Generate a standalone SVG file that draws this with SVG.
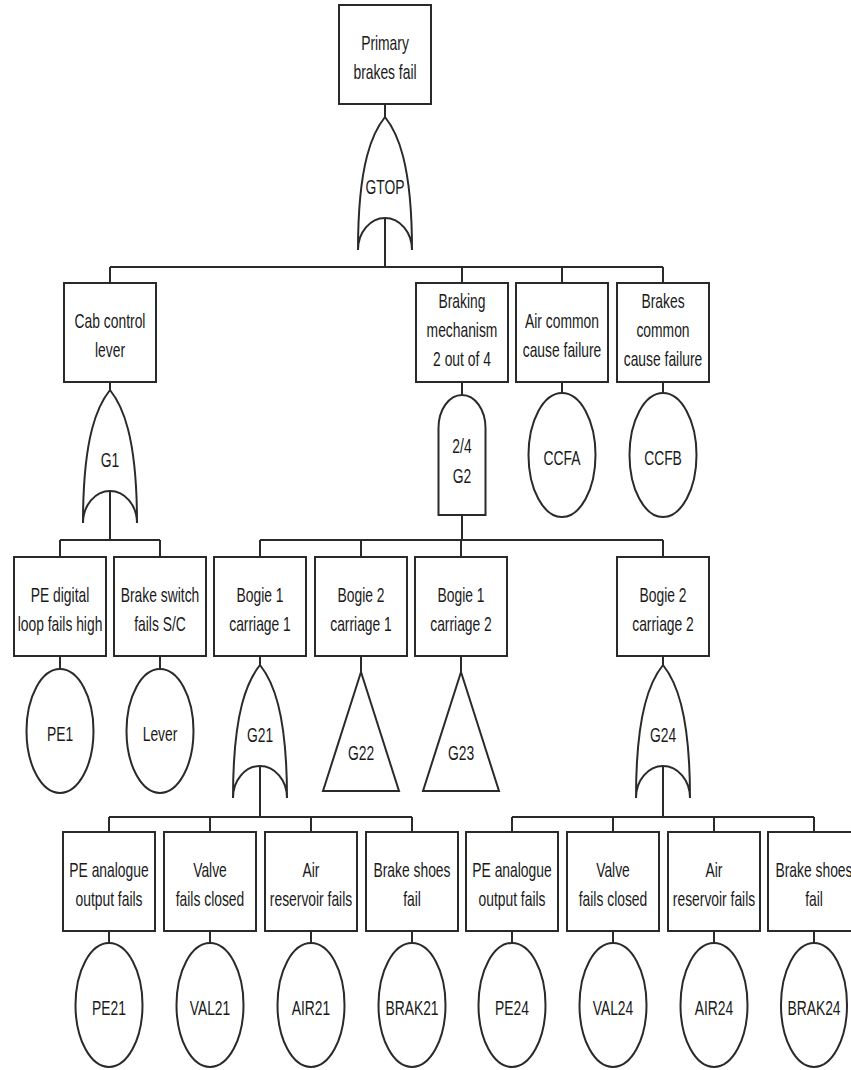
<svg xmlns="http://www.w3.org/2000/svg" width="851" height="1070" viewBox="0 0 851 1070">
<style>
.b{fill:#fff;stroke:#2a2a2a;stroke-width:2}
.c{fill:none;stroke:#2a2a2a;stroke-width:2}
.t{font-family:"Liberation Sans",Arial,sans-serif;font-size:21px;fill:#1a1a1a;text-anchor:middle}
</style>
<rect width="851" height="1070" fill="#fff"/>
<g id="connectors" class="c">
<path d="M385,104V117M385,218V267M110,267H663M110,267V283M462,267V283M562,267V283M663,267V283"/>
<path d="M110,382V390M110,491V540M60,540H160M60,540V557M160,540V557M60,656V669M160,656V669"/>
<path d="M462,382V395M462,515V540M260,540H663M260,540V557M361,540V557M461,540V557M663,540V557"/>
<path d="M562,382V393M663,382V393"/>
<path d="M260,656V665M260,766V817M109,817H412M109,817V832M210,817V832M311,817V832M412,817V832"/>
<path d="M361,656V672M461,656V672"/>
<path d="M663,656V665M663,766V817M512,817H814M512,817V832M613,817V832M714,817V832M814,817V832"/>
<path d="M109,931V943M210,931V943M311,931V943M412,931V943M512,931V943M613,931V943M714,931V943M814,931V943"/>
</g>
<g id="n_top"><rect class="b" x="339" y="5" width="92" height="99"/><text class="t" transform="translate(385 50) scale(0.66 1)">Primary</text><text class="t" transform="translate(385 79) scale(0.66 1)">brakes fail</text></g>
<g id="g_top"><path class="b" d="M358,250A27 32 0 0 1 412,250C412,162 397,132 385,117C373,132 358,162 358,250Z"/><text class="t" transform="translate(385 194) scale(0.66 1)">GTOP</text></g>
<g id="n_cab"><rect class="b" x="64" y="283" width="92" height="99"/><text class="t" transform="translate(110 328) scale(0.66 1)">Cab control</text><text class="t" transform="translate(110 357) scale(0.66 1)">lever</text></g>
<g id="n_brk"><rect class="b" x="416" y="283" width="92" height="99"/><text class="t" transform="translate(462 308) scale(0.66 1)">Braking</text><text class="t" transform="translate(462 337) scale(0.66 1)">mechanism</text><text class="t" transform="translate(462 366) scale(0.66 1)">2 out of 4</text></g>
<g id="n_air"><rect class="b" x="516" y="283" width="92" height="99"/><text class="t" transform="translate(562 328) scale(0.66 1)">Air common</text><text class="t" transform="translate(562 357) scale(0.66 1)">cause failure</text></g>
<g id="n_brc"><rect class="b" x="617" y="283" width="92" height="99"/><text class="t" transform="translate(663 308) scale(0.66 1)">Brakes</text><text class="t" transform="translate(663 337) scale(0.66 1)">common</text><text class="t" transform="translate(663 366) scale(0.66 1)">cause failure</text></g>
<g id="g1"><path class="b" d="M83,523A27 32 0 0 1 137,523C137,435 122,405 110,390C98,405 83,435 83,523Z"/><text class="t" transform="translate(110 467) scale(0.66 1)">G1</text></g>
<g id="g2"><path class="b" d="M438.5,515V428A23.5 33 0 0 1 485.5,428V515Z"/><text class="t" transform="translate(462 453) scale(0.66 1)">2/4</text><text class="t" transform="translate(462 483) scale(0.66 1)">G2</text></g>
<g id="e_ccfa"><ellipse class="b" cx="562" cy="455" rx="33.5" ry="62"/><text class="t" transform="translate(562 465) scale(0.66 1)">CCFA</text></g>
<g id="e_ccfb"><ellipse class="b" cx="663" cy="455" rx="33.5" ry="62"/><text class="t" transform="translate(663 465) scale(0.66 1)">CCFB</text></g>
<g id="n_ped"><rect class="b" x="14" y="557" width="92" height="99"/><text class="t" transform="translate(60 602) scale(0.66 1)">PE digital</text><text class="t" transform="translate(60 631) scale(0.66 1)">loop fails high</text></g>
<g id="n_bsw"><rect class="b" x="114" y="557" width="92" height="99"/><text class="t" transform="translate(160 602) scale(0.66 1)">Brake switch</text><text class="t" transform="translate(160 631) scale(0.66 1)">fails S/C</text></g>
<g id="n_b1c1"><rect class="b" x="214" y="557" width="92" height="99"/><text class="t" transform="translate(260 602) scale(0.66 1)">Bogie 1</text><text class="t" transform="translate(260 631) scale(0.66 1)">carriage 1</text></g>
<g id="n_b2c1"><rect class="b" x="315" y="557" width="92" height="99"/><text class="t" transform="translate(361 602) scale(0.66 1)">Bogie 2</text><text class="t" transform="translate(361 631) scale(0.66 1)">carriage 1</text></g>
<g id="n_b1c2"><rect class="b" x="415" y="557" width="92" height="99"/><text class="t" transform="translate(461 602) scale(0.66 1)">Bogie 1</text><text class="t" transform="translate(461 631) scale(0.66 1)">carriage 2</text></g>
<g id="n_b2c2"><rect class="b" x="617" y="557" width="92" height="99"/><text class="t" transform="translate(663 602) scale(0.66 1)">Bogie 2</text><text class="t" transform="translate(663 631) scale(0.66 1)">carriage 2</text></g>
<g id="e_pe1"><ellipse class="b" cx="60" cy="731" rx="33.5" ry="62"/><text class="t" transform="translate(60 741) scale(0.66 1)">PE1</text></g>
<g id="e_lever"><ellipse class="b" cx="160" cy="731" rx="33.5" ry="62"/><text class="t" transform="translate(160 741) scale(0.66 1)">Lever</text></g>
<g id="g21"><path class="b" d="M233,798A27 32 0 0 1 287,798C287,710 272,680 260,665C248,680 233,710 233,798Z"/><text class="t" transform="translate(260 742) scale(0.66 1)">G21</text></g>
<g id="g22"><path class="b" d="M361,672L399,791H323Z"/><text class="t" transform="translate(361 760) scale(0.66 1)">G22</text></g>
<g id="g23"><path class="b" d="M461,672L499,791H423Z"/><text class="t" transform="translate(461 760) scale(0.66 1)">G23</text></g>
<g id="g24"><path class="b" d="M636,798A27 32 0 0 1 690,798C690,710 675,680 663,665C651,680 636,710 636,798Z"/><text class="t" transform="translate(663 742) scale(0.66 1)">G24</text></g>
<g id="n_pe21"><rect class="b" x="63" y="832" width="92" height="99"/><text class="t" transform="translate(109 877) scale(0.66 1)">PE analogue</text><text class="t" transform="translate(109 906) scale(0.66 1)">output fails</text></g>
<g id="n_val21"><rect class="b" x="164" y="832" width="92" height="99"/><text class="t" transform="translate(210 877) scale(0.66 1)">Valve</text><text class="t" transform="translate(210 906) scale(0.66 1)">fails closed</text></g>
<g id="n_air21"><rect class="b" x="265" y="832" width="92" height="99"/><text class="t" transform="translate(311 877) scale(0.66 1)">Air</text><text class="t" transform="translate(311 906) scale(0.66 1)">reservoir fails</text></g>
<g id="n_brak21"><rect class="b" x="366" y="832" width="92" height="99"/><text class="t" transform="translate(412 877) scale(0.66 1)">Brake shoes</text><text class="t" transform="translate(412 906) scale(0.66 1)">fail</text></g>
<g id="n_pe24"><rect class="b" x="466" y="832" width="92" height="99"/><text class="t" transform="translate(512 877) scale(0.66 1)">PE analogue</text><text class="t" transform="translate(512 906) scale(0.66 1)">output fails</text></g>
<g id="n_val24"><rect class="b" x="567" y="832" width="92" height="99"/><text class="t" transform="translate(613 877) scale(0.66 1)">Valve</text><text class="t" transform="translate(613 906) scale(0.66 1)">fails closed</text></g>
<g id="n_air24"><rect class="b" x="668" y="832" width="92" height="99"/><text class="t" transform="translate(714 877) scale(0.66 1)">Air</text><text class="t" transform="translate(714 906) scale(0.66 1)">reservoir fails</text></g>
<g id="n_brak24"><rect class="b" x="768" y="832" width="92" height="99"/><text class="t" transform="translate(814 877) scale(0.66 1)">Brake shoes</text><text class="t" transform="translate(814 906) scale(0.66 1)">fail</text></g>
<g id="e_pe21"><ellipse class="b" cx="109" cy="1005" rx="33.5" ry="62"/><text class="t" transform="translate(109 1015) scale(0.66 1)">PE21</text></g>
<g id="e_val21"><ellipse class="b" cx="210" cy="1005" rx="33.5" ry="62"/><text class="t" transform="translate(210 1015) scale(0.66 1)">VAL21</text></g>
<g id="e_air21"><ellipse class="b" cx="311" cy="1005" rx="33.5" ry="62"/><text class="t" transform="translate(311 1015) scale(0.66 1)">AIR21</text></g>
<g id="e_brak21"><ellipse class="b" cx="412" cy="1005" rx="33.5" ry="62"/><text class="t" transform="translate(412 1015) scale(0.66 1)">BRAK21</text></g>
<g id="e_pe24"><ellipse class="b" cx="512" cy="1005" rx="33.5" ry="62"/><text class="t" transform="translate(512 1015) scale(0.66 1)">PE24</text></g>
<g id="e_val24"><ellipse class="b" cx="613" cy="1005" rx="33.5" ry="62"/><text class="t" transform="translate(613 1015) scale(0.66 1)">VAL24</text></g>
<g id="e_air24"><ellipse class="b" cx="714" cy="1005" rx="33.5" ry="62"/><text class="t" transform="translate(714 1015) scale(0.66 1)">AIR24</text></g>
<g id="e_brak24"><ellipse class="b" cx="814" cy="1005" rx="33" ry="62"/><text class="t" transform="translate(814 1015) scale(0.66 1)">BRAK24</text></g>
</svg>
